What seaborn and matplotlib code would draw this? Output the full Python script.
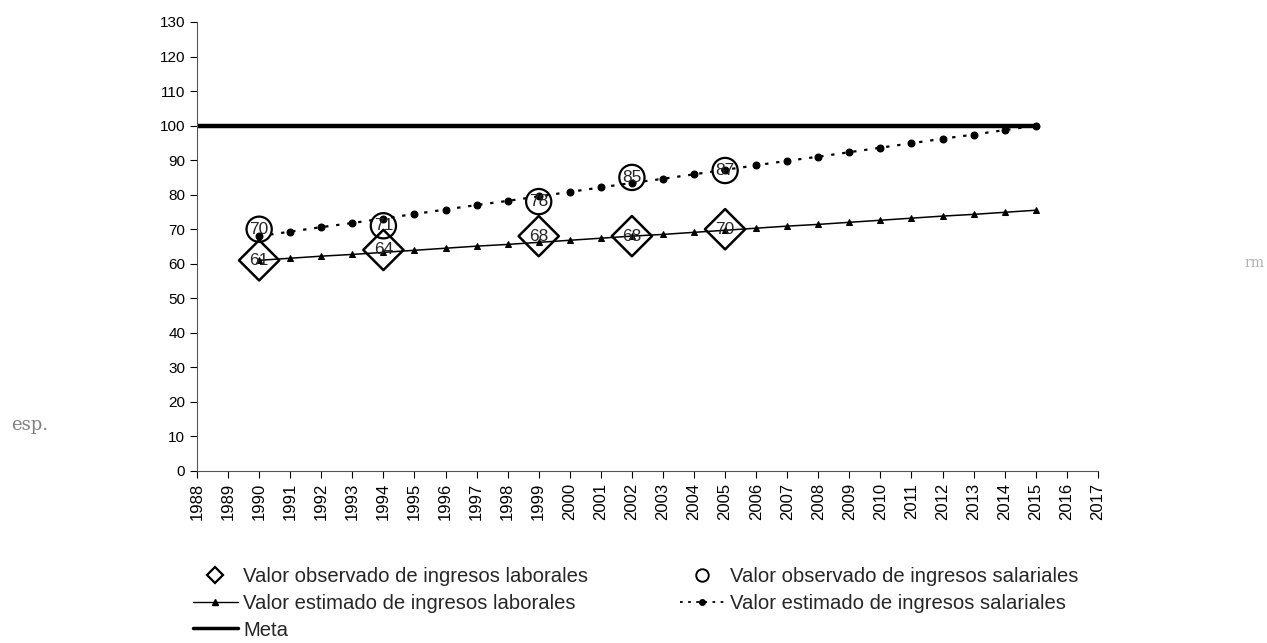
import matplotlib
matplotlib.use("Agg")
import matplotlib.pyplot as plt
from matplotlib.lines import Line2D
import numpy as np
import pandas as pd
import seaborn as sns

# datos
anios_est = list(range(1990, 2016))
est_laborales = [61.0, 61.6, 62.2, 62.7, 63.3, 63.9, 64.5, 65.1, 65.6, 66.2,
                 66.8, 67.4, 68.0, 68.5, 69.1, 69.7, 70.3, 70.9, 71.4, 72.0,
                 72.6, 73.2, 73.8, 74.3, 74.9, 75.5]
est_salariales = [68.0, 69.3, 70.6, 71.8, 73.1, 74.4, 75.7, 77.0, 78.2, 79.5,
                  80.8, 82.1, 83.4, 84.6, 85.9, 87.2, 88.5, 89.8, 91.0, 92.3,
                  93.6, 94.9, 96.2, 97.4, 98.7, 100.0]

anios_obs = [1990, 1994, 1999, 2002, 2005]
obs_laborales = [61, 64, 68, 68, 70]
obs_salariales = [70, 71, 78, 85, 87]

meta_anios = [1988, 2015]
meta_valores = [100, 100]

etiquetas = ["Valor observado de ingresos laborales",
             "Valor estimado de ingresos laborales",
             "Meta",
             "Valor observado de ingresos salariales",
             "Valor estimado de ingresos salariales"]

sns.set_style("ticks")
plt.rcParams["font.family"] = ["Liberation Sans", "DejaVu Sans"]

fig = plt.figure(figsize=(12.67, 6.43), dpi=100)
ax = fig.add_axes([0.1555, 0.2675, 0.711, 0.6983])

# meta
sns.lineplot(x=meta_anios, y=meta_valores, ax=ax, color="black", linewidth=3.2)

# lineas estimadas
sns.lineplot(x=anios_est, y=est_laborales, ax=ax, color="black", linewidth=1.1,
             marker="^", markersize=4.5, markeredgecolor="black")
sns.lineplot(x=anios_est, y=est_salariales, ax=ax, color="black", linewidth=1.6,
             linestyle=(0, (1.5, 3.5)), marker="o", markersize=5, markeredgecolor="black")

# valores observados (marcadores huecos)
sns.scatterplot(x=anios_obs, y=obs_laborales, ax=ax, marker="D", s=420,
                facecolor="none", edgecolor="black", linewidth=1.8, zorder=5)
sns.scatterplot(x=anios_obs, y=obs_salariales, ax=ax, marker="o", s=330,
                facecolor="none", edgecolor="black", linewidth=1.6, zorder=5)

for xa, ya in zip(anios_obs, obs_laborales):
    ax.text(xa, ya, str(ya), ha="center", va="center", fontsize=12.5, zorder=6)
for xa, ya in zip(anios_obs, obs_salariales):
    ax.text(xa, ya, str(ya), ha="center", va="center", fontsize=12.5, zorder=6)

ax.set_xlim(1988, 2017)
ax.set_ylim(0, 130)
ax.set_xticks(range(1988, 2018))
ax.set_xticklabels([str(a) for a in range(1988, 2018)], rotation=90)
ax.set_yticks(range(0, 131, 10))
ax.tick_params(axis="both", labelsize=11, length=5, width=0.8, colors="black")
ax.tick_params(axis="x", labelsize=12)
sns.despine(ax=ax)
ax.spines["left"].set_color("#555555")
ax.spines["bottom"].set_color("#555555")

# leyenda
handles = [
    Line2D([], [], linestyle="none", marker="D", markersize=8,
           markerfacecolor="white", markeredgecolor="black", markeredgewidth=1.6),
    Line2D([], [], color="black", linewidth=1.0, marker="^", markersize=4),
    Line2D([], [], color="black", linewidth=2.5),
    Line2D([], [], linestyle="none", marker="o", markersize=9,
           markerfacecolor="white", markeredgecolor="black", markeredgewidth=1.4),
    Line2D([], [], color="black", linewidth=1.3, linestyle=(0, (1.5, 3)),
           marker="o", markersize=4),
]
fig.legend(handles, etiquetas, loc="upper left", bbox_to_anchor=(0.152, 0.118),
           ncol=2, frameon=False, fontsize=14.6, borderpad=0, borderaxespad=0,
           handlelength=2.25, handletextpad=0.25, columnspacing=4.5,
           labelspacing=0.38)

# restos del escaneo
fig.text(0.009, 0.331, "esp.", fontsize=13, color="#808080", family="DejaVu Serif")
fig.text(0.982, 0.585, "rm", fontsize=10, color="#b0b0b0", family="DejaVu Serif")

fig.savefig("out.png", dpi=100)
